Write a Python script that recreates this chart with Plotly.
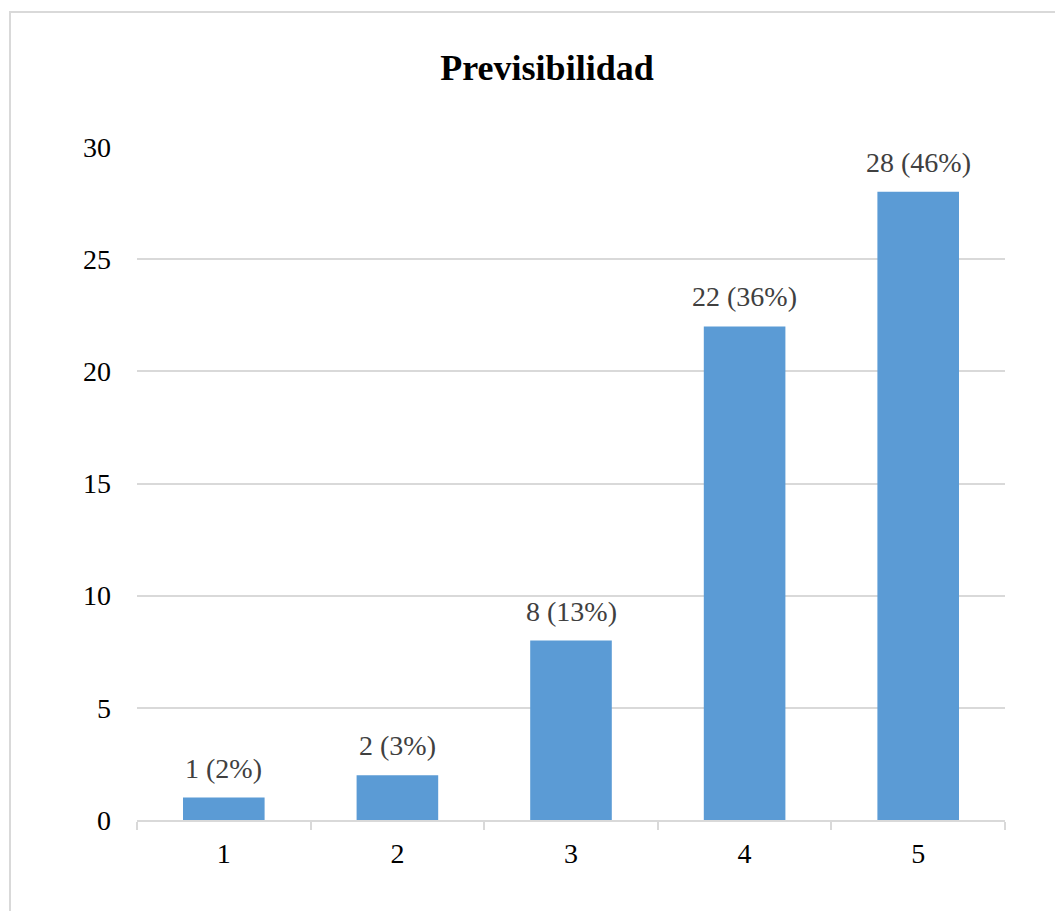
import plotly.graph_objects as go

categories = ["1", "2", "3", "4", "5"]
counts = [1, 2, 8, 22, 28]
percents = [2, 3, 13, 36, 46]
title_text = "Previsibilidad"

labels = [f"{c} ({p}%)" for c, p in zip(counts, percents)]
serif = "Liberation Serif"

fig = go.Figure(
    go.Bar(
        x=categories,
        y=counts,
        marker=dict(color="#5B9BD5", line=dict(width=0)),
        width=0.47,
    )
)

# value labels sitting above each bar (category axis: annotation x is the category index)
annotations = [
    dict(
        x=idx,
        y=val,
        xref="x",
        yref="y",
        text=lab,
        showarrow=False,
        xanchor="center",
        yanchor="bottom",
        yshift=12,
        font=dict(family=serif, size=28, color="#404040"),
    )
    for idx, (val, lab) in enumerate(zip(counts, labels))
]

fig.update_layout(
    width=1055,
    height=911,
    margin=dict(l=137, r=50, t=147, b=91),
    paper_bgcolor="white",
    plot_bgcolor="white",
    showlegend=False,
    title=dict(
        text=f"<b>{title_text}</b>",
        x=(547 - 137) / 868,
        xref="paper",
        y=1 - 67 / 911,
        yref="container",
        xanchor="center",
        yanchor="middle",
        font=dict(family=serif, size=36, color="black"),
    ),
    font=dict(family=serif, size=28, color="black"),
    xaxis=dict(
        type="category",
        showline=True,
        linecolor="#d9d9d9",
        linewidth=1.5,
        ticks="outside",
        tickson="boundaries",
        ticklen=8,
        tickcolor="#d9d9d9",
        tickwidth=1.5,
        showgrid=False,
        ticklabelstandoff=8,
        tickfont=dict(family=serif, size=28, color="black"),
    ),
    yaxis=dict(
        range=[0, 30],
        dtick=5,
        showgrid=True,
        gridcolor="#d9d9d9",
        gridwidth=1.5,
        zeroline=False,
        showline=False,
        ticks="",
        ticklabelstandoff=25,
        tickfont=dict(family=serif, size=28, color="black"),
    ),
    annotations=annotations,
    shapes=[
        dict(
            type="rect",
            xref="paper",
            yref="paper",
            x0=(10 - 137) / 868,
            x1=(1062 - 137) / 868,
            y0=(820 - 918) / 673,
            y1=(820 - 12) / 673,
            line=dict(color="#d9d9d9", width=2),
            fillcolor="rgba(0,0,0,0)",
            layer="below",
        )
    ],
)

fig.write_html("out.html")
